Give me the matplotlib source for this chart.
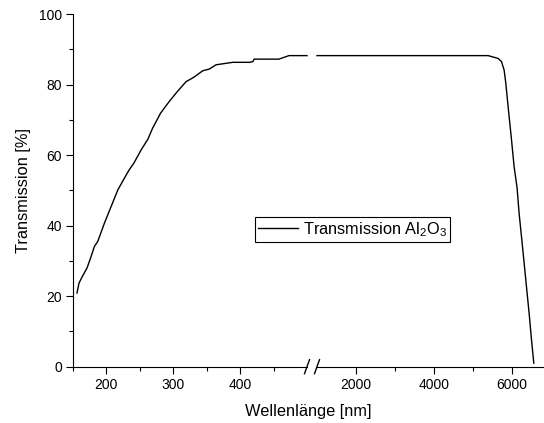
import matplotlib
matplotlib.use('Agg')
import matplotlib.pyplot as plt

plt.rcParams['font.family'] = ['Liberation Sans', 'DejaVu Sans']

# UV/VIS part of the spectrum (nm, %)
wl_uv = [156, 159, 164, 171, 177, 182, 187, 197, 207, 217, 227, 234, 241, 252,
         262, 269, 281, 294, 306, 319, 331, 344, 354, 364, 389, 414, 419, 421,
         458, 473, 500]
tr_uv = [20.9, 23.7, 25.6, 28.0, 31.2, 34.1, 35.5, 40.7, 45.4, 50.1, 53.5, 55.8,
         57.7, 61.5, 64.5, 67.6, 71.9, 75.2, 78.0, 80.8, 82.1, 83.9, 84.4, 85.6,
         86.3, 86.3, 86.5, 87.2, 87.2, 88.2, 88.2]

# IR part of the spectrum (nm, %)
wl_ir = [1000, 2000, 3000, 4000, 5000, 5400, 5656, 5743, 5810, 5853, 5913, 6000,
         6067, 6144, 6195, 6282, 6367, 6452, 6514, 6573]
tr_ir = [88.2, 88.2, 88.2, 88.2, 88.2, 88.2, 87.4, 86.5, 84.1, 80.4, 73.7, 64.3,
         56.7, 50.6, 43.5, 34.1, 24.6, 15.2, 7.6, 1.0]

W, H = 544, 423
fig = plt.figure(figsize=(W / 100, H / 100), dpi=100)

y0, y1 = 366.7, 14
ax1 = fig.add_axes([73 / W, (H - y0) / H, (307 - 73) / W, (y0 - y1) / H])
ax2 = fig.add_axes([317 / W, (H - y0) / H, (W - 317) / W, (y0 - y1) / H])

line, = ax1.plot(wl_uv, tr_uv, color='black', lw=1.0, clip_on=False)
ax2.plot(wl_ir, tr_ir, color='black', lw=1.0, clip_on=False)

ax1.set_xlim(150, 500)
ax2.set_xlim(1000, 6835)
for ax in (ax1, ax2):
    ax.set_ylim(0, 100)
    ax.spines['top'].set_visible(False)
    ax.spines['right'].set_visible(False)
    ax.tick_params(which='major', length=4.8, width=0.8, labelsize=10, pad=3)
    ax.tick_params(which='minor', length=2.9, width=0.8)
    ax.patch.set_alpha(0)

ax2.spines['left'].set_visible(False)
ax2.set_yticks([])

ax1.set_xticks([200, 300, 400])
ax1.set_xticks([150, 250, 350, 450], minor=True)
ax1.set_yticks([0, 20, 40, 60, 80, 100])
ax1.set_yticks([10, 30, 50, 70, 90], minor=True)
ax2.set_xticks([2000, 4000, 6000])
ax2.set_xticks([3000, 5000], minor=True)

ax1.set_ylabel('Transmission [%]', fontsize=11.8, labelpad=6)
fig.text((73 + W) / 2 / W, (H - 411) / H, 'Wellenlänge [nm]', fontsize=11.8,
         ha='center', va='center')

# axis break marks
for ax, xa in ((ax1, 1.0), (ax2, 0.0)):
    dx = 2.5 / ax.get_position().width / W
    dy = 7.0 / (y0 - y1)
    ax.plot([xa - dx, xa + dx], [-dy, dy], transform=ax.transAxes,
            color='black', lw=1.0, clip_on=False)

fig.legend([line], [r'Transmission $\mathregular{Al_2O_3}$'],
           loc='lower left', bbox_to_anchor=(255 / W, (H - 242) / H),
           fontsize=11.8, frameon=True, fancybox=False, edgecolor='black',
           framealpha=1, borderpad=0.2, borderaxespad=0, handlelength=2.4,
           handletextpad=0.3)
fig.legends[0].get_frame().set_linewidth(0.8)

fig.savefig('out.png', dpi=100)
